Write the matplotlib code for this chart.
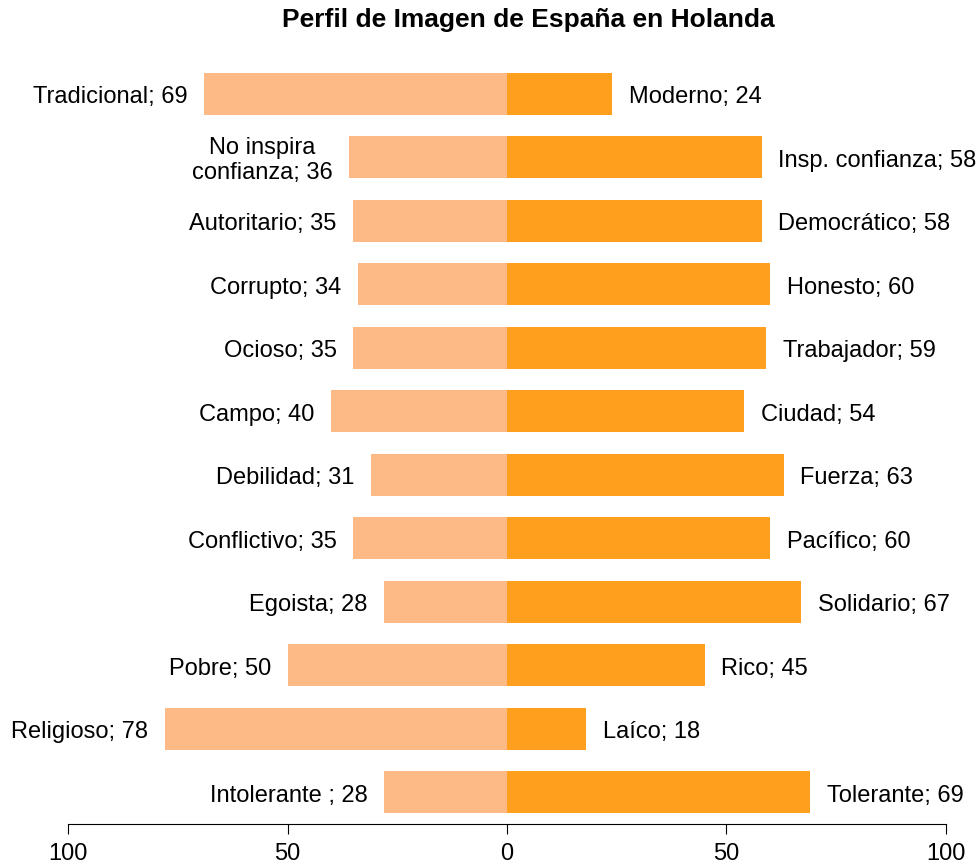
import matplotlib.pyplot as plt
import numpy as np

plt.rcParams['font.family'] = ['Liberation Sans', 'DejaVu Sans']

left_labels = ['Tradicional; 69', 'No inspira\nconfianza; 36', 'Autoritario; 35', 'Corrupto; 34',
               'Ocioso; 35', 'Campo; 40', 'Debilidad; 31', 'Conflictivo; 35', 'Egoista; 28',
               'Pobre; 50', 'Religioso; 78', 'Intolerante ; 28']
left_values = [69, 36, 35, 34, 35, 40, 31, 35, 28, 50, 78, 28]
right_labels = ['Moderno; 24', 'Insp. confianza; 58', 'Democrático; 58', 'Honesto; 60',
                'Trabajador; 59', 'Ciudad; 54', 'Fuerza; 63', 'Pacífico; 60', 'Solidario; 67',
                'Rico; 45', 'Laíco; 18', 'Tolerante; 69']
right_values = [24, 58, 58, 60, 59, 54, 63, 60, 67, 45, 18, 69]
ticks = [-100, -50, 0, 50, 100]
tick_labels = ['100', '50', '0', '50', '100']

fig = plt.figure(figsize=(9.79, 8.67), dpi=100)
ax = fig.add_axes([68 / 979, 43 / 867, 878 / 979, 762 / 867])

n = len(left_values)
y = np.arange(n)[::-1]
ax.barh(y, -np.array(left_values), height=0.66, color='#FDBA87')
ax.barh(y, right_values, height=0.66, color='#FE9F1E')

for yi, lab, v in zip(y, left_labels, left_values):
    ax.annotate(lab, xy=(-v, yi), xytext=(-12, -2.5), textcoords='offset points',
                ha='right', va='center', multialignment='center', fontsize=17,
                linespacing=1.2)
for yi, lab, v in zip(y, right_labels, right_values):
    ax.annotate(lab, xy=(v, yi), xytext=(12, -2.5), textcoords='offset points',
                ha='left', va='center', fontsize=17)

ax.set_xlim(-100, 100)
ax.set_ylim(-0.5, n - 0.5)
for s in ['top', 'right', 'left']:
    ax.spines[s].set_visible(False)
ax.spines['bottom'].set_bounds(-100, 100)
ax.set_yticks([])
ax.set_xticks(ticks)
ax.set_xticklabels(tick_labels, fontsize=17)
ax.tick_params(axis='x', length=7, pad=7)

fig.text(528 / 979, 1 - 20 / 867, 'Perfil de Imagen de España en Holanda',
         ha='center', va='center', fontsize=19, fontweight='bold')

fig.savefig('out.png', dpi=100)
